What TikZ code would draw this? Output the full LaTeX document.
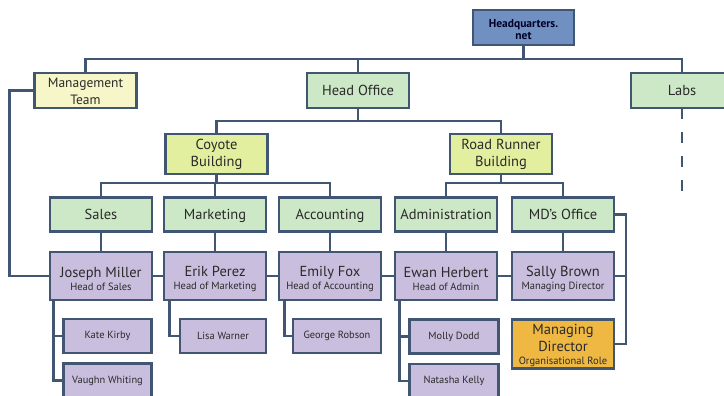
\documentclass[tikz,border=0pt]{standalone}
\usepackage{fontspec}
\setmainfont{PT Sans}
\definecolor{edge}{HTML}{415672}
\definecolor{hqfill}{HTML}{7090C2}
\definecolor{creamfill}{HTML}{F6F6C8}
\definecolor{greenfill}{HTML}{CDE8C6}
\definecolor{limefill}{HTML}{E1EF9F}
\definecolor{purplefill}{HTML}{C9BEDD}
\definecolor{orangefill}{HTML}{EEB843}
\definecolor{txt}{HTML}{2A2A2A}
\newcommand\nmfont{\fontsize{14.5}{16}\selectfont}
\newcommand\rlfont{\fontsize{10.5}{12}\selectfont}
\newcommand\tallstrut{\rule{0pt}{16.5pt}}
\begin{document}
\begin{tikzpicture}[x=1pt,y=-1pt,
  box/.style={draw=edge,line width=2.6pt,minimum width=#1,inner sep=0pt,align=center,text=txt,font=\fontsize{14.5}{15}\selectfont},
  box/.default=102pt,
  oneline/.style={text height=12pt,text depth=2pt},
  hqbox/.style={box=101pt,fill=hqfill,minimum height=35pt,font=\bfseries\fontsize{11.5}{12.5}\selectfont,text=black!85!blue},
  topbox/.style={box=102pt,minimum height=35pt},
  bldbox/.style={box=102pt,fill=limefill,minimum height=40pt,font=\fontsize{14.5}{17}\selectfont},
  deptbox/.style={box=102pt,fill=greenfill,minimum height=34pt,oneline},
  headbox/.style={box=102pt,fill=purplefill,minimum height=48pt,font=\nmfont},
  staffbox/.style={box=#1,fill=purplefill,minimum height=34pt,font=\fontsize{10.4}{12}\selectfont},
  link/.style={draw=edge,line width=2.6pt}
]
\useasboundingbox (0,0) rectangle (724,396);
\fill[white] (0,0) rectangle (724,396);

\coordinate (busA) at (0,59);
\coordinate (busB) at (0,121);
\coordinate (busC) at (0,183);
\coordinate (leftrail) at (9.5,0);
\coordinate (mdrail) at (626,0);
\coordinate (labsend) at (682,193);

% nodes
\node[hqbox] (hq) at (523.5,27.5) {\rule{0pt}{12pt}Headquarters.\\net};
\node[topbox,fill=creamfill,font=\fontsize{13.5}{16.5}\selectfont] (mgmt) at (85.5,90.5) {\rule{0pt}{11pt}Management\\Team};
\node[topbox,fill=greenfill,oneline] (headoffice) at (358,90.5) {Head Office};
\node[topbox,fill=greenfill,oneline] (labs) at (682,90.5) {Labs};
\node[bldbox] (coyote) at (216.5,154) {\rule{0pt}{12pt}Coyote\\Building};
\node[bldbox] (roadrunner) at (501,154) {\rule{0pt}{12pt}Road Runner\\Building};

\node[deptbox] (sales) at (101,214.5) {Sales};
\node[deptbox] (marketing) at (215,214.5) {Marketing};
\node[deptbox] (accounting) at (330,214.5) {Accounting};
\node[deptbox] (admin) at (446,214.5) {Administration};
\node[deptbox] (mdoffice) at (563,214.5) {MD's Office};

\node[headbox] (joseph) at (101,276) {\tallstrut Joseph Miller\\[-3pt]{\rlfont Head of Sales}};
\node[headbox] (erik) at (215,276) {\tallstrut Erik Perez\\[-3pt]{\rlfont Head of Marketing}};
\node[headbox] (emily) at (330,276) {\tallstrut Emily Fox\\[-3pt]{\rlfont Head of Accounting}};
\node[headbox] (ewan) at (446,276) {\tallstrut Ewan Herbert\\[-3pt]{\rlfont Head of Admin}};
\node[headbox] (sally) at (563,276) {\tallstrut Sally Brown\\[-3pt]{\rlfont Managing Director}};

\node[staffbox=88pt] (kate) at (107.5,336) {Kate Kirby};
\node[staffbox=88pt] (vaughn) at (107.5,380.5) {Vaughn Whiting};
\node[staffbox=86pt] (lisa) at (223,336) {Lisa Warner};
\node[staffbox=88pt] (george) at (337,336) {George Robson};
\node[staffbox=89pt] (molly) at (454,336.5) {Molly Dodd};
\node[staffbox=89pt] (natasha) at (454,381) {Natasha Kelly};
\node[box=102pt,fill=orangefill,minimum height=49pt,font=\nmfont] (md) at (563,344)
  {\rule{0pt}{13pt}Managing\\[1pt]Director\\[-3pt]{\rlfont Organisational Role}};

% connectors
\draw[link] (hq.south) -- (hq.south |- busA);
\draw[link] (mgmt.north) |- (busA -| labs.north) -- (labs.north);
\draw[link] (headoffice.north) -- (headoffice.north |- busA);
\draw[link,dash pattern=on 11pt off 13pt] ([yshift=1pt]labs.south) -- (labsend);

\draw[link] (headoffice.south) -- (headoffice.south |- busB);
\draw[link] (coyote.north) |- (busB -| roadrunner.north) -- (roadrunner.north);

\draw[link] (coyote.south) -- (coyote.south |- busC);
\draw[link] (sales.north) |- (busC -| accounting.north) -- (accounting.north);
\draw[link] (marketing.north) -- (marketing.north |- busC);
\draw[link] (roadrunner.south) -- (roadrunner.south |- busC);
\draw[link] (admin.north) |- (busC -| mdoffice.north) -- (mdoffice.north);

\draw[link] (sales) -- (joseph);
\draw[link] (marketing) -- (erik);
\draw[link] (accounting) -- (emily);
\draw[link] (admin) -- (ewan);
\draw[link] (mdoffice) -- (sally);

\draw[link] (joseph) -- (erik);
\draw[link] (erik) -- (emily);
\draw[link] (emily) -- (ewan);
\draw[link] (ewan) -- (sally);
\draw[link] (mgmt.west) -| (leftrail |- joseph) -- (joseph.west);

\draw[link] ([xshift=5pt]joseph.south west) |- (vaughn.west);
\draw[link] (kate.west) -- ([xshift=5pt]kate.west -| joseph.south west);
\draw[link] ([xshift=7pt]erik.south west) |- (lisa.west);
\draw[link] ([xshift=7pt]emily.south west) |- (george.west);
\draw[link] ([xshift=6pt]ewan.south west) |- (natasha.west);
\draw[link] (molly.west) -- ([xshift=6pt]molly.west -| ewan.south west);

\draw[link] (mdoffice.east) -| (mdrail |- md) -- (md.east);
\draw[link] (sally.east) -- (sally.east -| mdrail);
\end{tikzpicture}
\end{document}
